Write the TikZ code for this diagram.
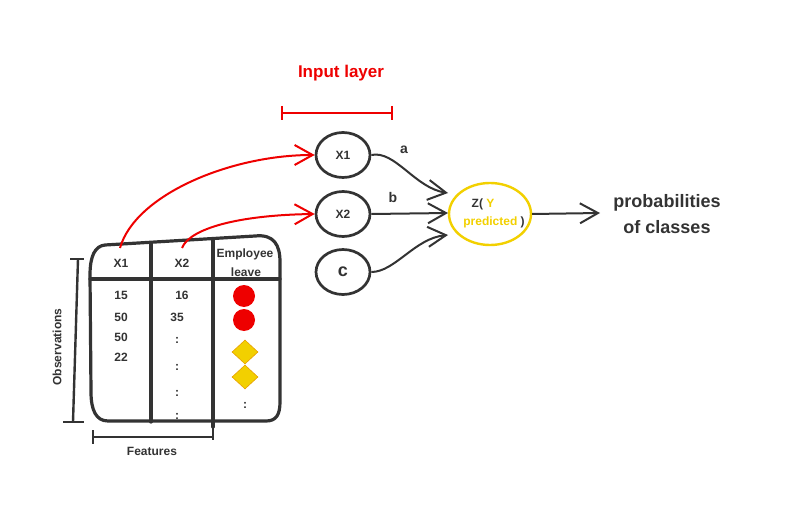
\documentclass[tikz,border=0pt]{standalone}
\usepackage{fontspec}
\setmainfont{Liberation Sans}
\usetikzlibrary{shapes.geometric,arrows.meta}
\definecolor{ink}{HTML}{333333}
\definecolor{rd}{HTML}{EE0000}
\definecolor{ylw}{HTML}{F2D000}
\definecolor{dorg}{HTML}{E8A000}
\newcommand{\fs}[1]{\fontsize{#1}{#1}\selectfont\bfseries}
\tikzset{
  tbl/.style={draw=ink,line width=3.2pt,line join=round,line cap=round},
  txt/.style={text=ink,font=\fs{12},inner sep=0pt},
  neuron/.style={ellipse,draw=ink,line width=2.7pt,minimum width=54pt,minimum height=45pt,inner sep=0pt,text=ink,font=\fs{12}},
  conn/.style={draw=ink,line width=2pt,-{Straight Barb[length=18pt,width=20pt,line width=2pt]}},
  rconn/.style={draw=rd,line width=2pt,-{Straight Barb[length=18pt,width=20pt,line width=2pt]}},
  brk/.style={draw=ink,line width=2.4pt},
  rbrk/.style={draw=rd,line width=2pt},
  dot/.style={circle,fill=rd,minimum size=22pt,inner sep=0pt},
  dia/.style={diamond,fill=ylw,draw=dorg,line width=0.6pt,minimum width=26pt,minimum height=24pt,inner sep=0pt},
}
\begin{document}
\begin{tikzpicture}[x=1pt,y=-1pt]
\useasboundingbox (0,0) rectangle (787,505);
% table
\draw[tbl] (105,245) -- (255,236) .. controls (274,234) and (280,245) .. (280,262) -- (280,402) .. controls (280,415) and (276,421) .. (266,421) -- (108,421) .. controls (96,421) and (91,410) .. (91,392) -- (90,275) .. controls (90,256) and (95,246) .. (105,245) -- cycle;
\draw[tbl] (90,279) -- (280,279);
\draw[tbl] (151,243) -- (151,422);
\draw[tbl] (213,239) -- (213,427);
% headers
\node[txt] (h1) at (121,263) {X1};
\node[txt] (h2) at (182,263) {X2};
\node[txt] (h3a) at (245,254) {Employee};
\node[txt] (h3b) at (246,272) {leave};
\coordinate (h1top) at (120,248);
\coordinate (h2top) at (182,248);
% data
\node[txt] (d11) at (121,295) {15};
\node[txt] (d12) at (121,317) {50};
\node[txt] (d13) at (121,337) {50};
\node[txt] (d14) at (121,357) {22};
\node[txt] (d21) at (182,295) {16};
\node[txt] (d22) at (177,317) {35};
\node[txt] (d23) at (177,340) {:};
\node[txt] (d24) at (177,367) {:};
\node[txt] (d25) at (177,393) {:};
\node[txt] (d26) at (177,416) {:};
\node[dot] (c1) at (244,296) {};
\node[dot] (c2) at (244,320) {};
\node[dia] (y1) at (245,352) {};
\node[dia] (y2) at (245,377) {};
\node[txt] (d36) at (245,405) {:};
% observations bracket
\draw[brk] (78,259) -- (73,422);
\draw[brk] (70,259) -- (84,259);
\draw[brk] (63,422) -- (84,422);
\node[txt,rotate=90] (obs) at (57,347) {Observations};
% features bracket
\draw[brk] (93,437) -- (213,437);
\draw[brk] (93,430) -- (93,444);
\draw[brk] (213,427) -- (213,440);
\node[txt] (feat) at (152,451) {Features};
% input layer
\node[text=rd,font=\fs{17},inner sep=0pt] (inl) at (341,73) {Input layer};
\draw[rbrk] (282,113) -- (392,113);
\draw[rbrk] (282,106) -- (282,120);
\draw[rbrk] (392,106) -- (392,120);
% neurons
\node[neuron] (x1) at (343,155) {X1};
\node[neuron] (x2) at (343,214) {X2};
\node[neuron,font=\fs{18}] (cc) at (343,272) {\raisebox{-8pt}{c}};
\node[ellipse,draw=ylw,line width=2.4pt,minimum width=82pt,minimum height=62pt] (z) at (490,214) {};
\node[txt] (zl1) at (483,204) {Z( \textcolor{ylw}{Y}};
\node[txt] (zl2) at (494,222) {\textcolor{ylw}{predicted} )};
\coordinate (ta) at (448,193);
\coordinate (tb) at (448,213);
\coordinate (tc) at (448,235);
% red arrows
\draw[rconn] (h1top) .. controls (135,195) and (230,155) .. (x1.west);
\draw[rconn] (h2top) .. controls (190,228) and (240,215) .. (x2.west);
% black connectors
\draw[conn] (x1.east) .. controls (395,150) and (415,188) .. (ta);
\draw[conn] (x2.east) -- (tb);
\draw[conn] (cc.east) .. controls (395,272) and (415,238) .. (tc);
\node[text=ink,font=\fs{14},inner sep=0pt] (la) at (404,150) {a};
\node[text=ink,font=\fs{14},inner sep=0pt] (lb) at (393,197) {b};
% output
\coordinate (pt) at (600,213);
\draw[conn] (z.east) -- (pt);
\node[text=ink,font=\fs{18},inner sep=0pt] (p1) at (667,203) {probabilities};
\node[text=ink,font=\fs{18},inner sep=0pt] (p2) at (667,227) {of classes};
\end{tikzpicture}
\end{document}
